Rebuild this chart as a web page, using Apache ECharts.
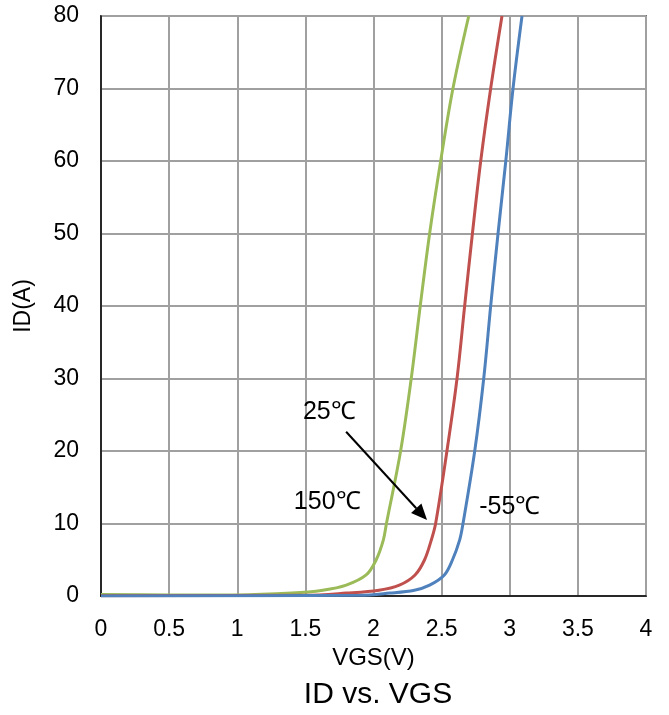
<!DOCTYPE html>
<html>
<head>
<meta charset="utf-8">
<script src="https://cdn.jsdelivr.net/npm/echarts@6/dist/echarts.min.js"></script>
<style>
  html, body { margin: 0; padding: 0; background: #fff; }
  #chart { width: 669px; height: 715px; }
</style>
</head>
<body>
<div id="chart"></div>
<script>
// Transfer characteristic: drain current vs gate-source voltage at three temperatures
var xTicks = [0, 0.5, 1, 1.5, 2, 2.5, 3, 3.5, 4];
var yTicks = [0, 10, 20, 30, 40, 50, 60, 70, 80];

// [VGS (V), ID (A)]
var id150C = [
  [0, 0.2], [0.5, 0.15], [1.0, 0.15], [1.4, 0.4], [1.628, 0.8], [1.8, 1.5],
  [1.946, 2.9], [2.02, 5], [2.072, 7.7], [2.095, 10], [2.199, 20], [2.277, 30],
  [2.343, 40], [2.412, 50], [2.493, 60], [2.583, 70], [2.699, 80]
];
var id25C = [
  [0, 0.05], [1.5, 0.1], [1.8, 0.4], [2.04, 0.8], [2.19, 1.5], [2.305, 2.9],
  [2.375, 5], [2.424, 7.7], [2.456, 10], [2.539, 20], [2.613, 30], [2.669, 40],
  [2.726, 50], [2.787, 60], [2.86, 70], [2.943, 80]
];
var idMinus55C = [
  [0, 0], [1.9, 0.1], [2.118, 0.4], [2.3, 0.8], [2.412, 1.5], [2.52, 2.9],
  [2.58, 5], [2.632, 7.7], [2.657, 10], [2.743, 20], [2.809, 30], [2.86, 40],
  [2.914, 50], [2.971, 60], [3.024, 70], [3.09, 80]
];

// Curve labels and the pointer arrow, in data units
var curveLabels = [
  { text: '25℃', at: [1.676, 25.3] },
  { text: '150℃', at: [1.66, 12.9] },
  { text: '-55℃', at: [3.0, 12.2] }
];
var pointerArrow = { from: [1.799, 22.66], to: [2.393, 10.48] };

var FONT = '"Liberation Sans", Arial, sans-serif';
var chart = echarts.init(document.getElementById('chart'));

function lineSeries(name, data, color) {
  return {
    name: name,
    type: 'line',
    data: data,
    smooth: 0.35,
    showSymbol: false,
    lineStyle: { color: color, width: 3 },
    z: 3
  };
}

chart.setOption({
  animation: false,
  title: {
    text: 'ID vs. VGS',
    left: 373,
    textAlign: 'center',
    top: 675,
    textStyle: { fontFamily: FONT, fontSize: 30, fontWeight: 'normal', color: '#000' }
  },
  grid: {
    left: 101, top: 16, right: 23, bottom: 119,
    show: true, borderColor: '#000', borderWidth: 1.5
  },
  xAxis: {
    type: 'value',
    min: xTicks[0], max: xTicks[xTicks.length - 1], interval: 0.5,
    name: 'VGS(V)',
    nameLocation: 'middle',
    nameGap: 42,
    nameTextStyle: { fontFamily: FONT, fontSize: 24, color: '#000' },
    axisLine: { show: true, lineStyle: { color: '#000', width: 1.5 } },
    axisTick: { show: false },
    axisLabel: { fontFamily: FONT, fontSize: 23, color: '#000', margin: 22 },
    splitLine: { show: true, lineStyle: { color: '#a0a0a0', width: 2 } }
  },
  yAxis: {
    type: 'value',
    min: yTicks[0], max: yTicks[yTicks.length - 1], interval: 10,
    name: 'ID(A)',
    nameLocation: 'middle',
    nameGap: 66,
    nameTextStyle: { fontFamily: FONT, fontSize: 23, color: '#000' },
    axisLine: { show: true, lineStyle: { color: '#000', width: 1.5 } },
    axisTick: { show: false },
    axisLabel: { fontFamily: FONT, fontSize: 23, color: '#000', margin: 22 },
    splitLine: { show: true, lineStyle: { color: '#a0a0a0', width: 2 } }
  },
  series: [
    lineSeries('150℃', id150C, '#9BBB59'),
    lineSeries('25℃', id25C, '#C0504D'),
    lineSeries('-55℃', idMinus55C, '#4F81BD')
  ]
});

// Place the temperature labels and the arrow through the axis scales
var graphics = curveLabels.map(function (l) {
  var p = chart.convertToPixel({ gridIndex: 0 }, l.at);
  return {
    type: 'text', x: p[0], y: p[1], z: 10,
    style: { text: l.text, font: '25px ' + FONT, fill: '#000', align: 'center', verticalAlign: 'middle' }
  };
});
var a = chart.convertToPixel({ gridIndex: 0 }, pointerArrow.from);
var b = chart.convertToPixel({ gridIndex: 0 }, pointerArrow.to);
var ang = Math.atan2(b[1] - a[1], b[0] - a[0]);
var headLen = 16, headHalf = 7;
var baseX = b[0] - headLen * Math.cos(ang), baseY = b[1] - headLen * Math.sin(ang);
graphics.push({
  type: 'line', z: 10,
  shape: { x1: a[0], y1: a[1], x2: baseX, y2: baseY },
  style: { stroke: '#000', lineWidth: 2 }
});
graphics.push({
  type: 'polygon', z: 10,
  shape: { points: [
    [b[0], b[1]],
    [baseX + headHalf * Math.sin(ang), baseY - headHalf * Math.cos(ang)],
    [baseX - headHalf * Math.sin(ang), baseY + headHalf * Math.cos(ang)]
  ] },
  style: { fill: '#000' }
});
chart.setOption({ graphic: graphics });
</script>
</body>
</html>
